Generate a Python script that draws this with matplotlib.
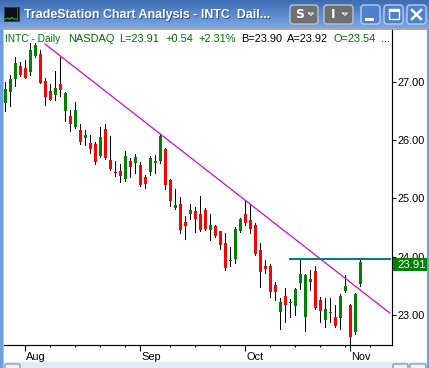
import numpy as np
import matplotlib
matplotlib.use("Agg")
import matplotlib.pyplot as plt
from matplotlib.patches import FancyBboxPatch, Rectangle
from matplotlib.transforms import blended_transform_factory, ScaledTranslation

plt.rcParams['font.family'] = ['Liberation Sans', 'DejaVu Sans']

opens = [26.63,26.82,27.05,27.27,27.23,27.17,27.44,27.47,27.01,26.84,26.77,26.96,26.50,26.41,26.22,
         26.17,26.04,25.95,25.93,25.73,26.19,25.66,25.45,25.47,25.33,25.64,25.61,25.57,25.37,25.45,
         25.61,25.64,25.85,25.32,24.84,24.90,24.60,24.73,24.79,24.73,24.80,24.46,24.53,24.44,24.24,
         23.93,23.96,24.44,24.73,24.63,24.55,24.12,23.84,23.84,23.52,23.06,23.33,23.21,23.16,23.55,
         22.97,23.57,23.76,23.26,22.92,23.04,22.97,22.95,23.42,23.18,22.71,23.54]
closes = [26.87,27.05,27.32,27.11,27.07,27.54,27.63,26.98,26.74,26.69,26.89,26.86,26.81,26.28,26.52,
          25.97,26.08,25.85,25.62,26.05,25.69,25.50,25.44,25.39,25.73,25.54,25.71,25.23,25.25,25.69,
          25.64,26.07,25.23,24.96,24.89,24.46,24.53,24.80,24.65,24.46,24.48,24.55,24.36,24.20,23.81,
          23.95,24.48,24.65,24.58,24.48,24.05,23.74,23.79,23.40,23.40,23.23,23.18,23.23,23.45,23.71,
          23.69,23.62,23.13,23.07,23.11,23.06,22.82,23.33,23.50,22.63,23.37,23.91]
highs = [27.00,27.11,27.43,27.33,27.37,27.66,27.66,27.54,27.06,26.96,27.19,27.42,26.82,26.52,26.65,
         26.28,26.17,26.09,25.97,26.22,26.28,26.07,25.64,25.59,25.81,25.69,25.76,25.62,25.40,25.73,
         25.74,26.10,25.86,25.33,25.16,25.03,24.70,24.90,24.85,25.04,24.84,24.73,24.55,24.45,24.41,
         24.17,24.51,24.67,24.97,24.89,24.58,24.24,23.95,23.88,23.57,23.30,23.47,23.28,23.47,23.98,
         23.70,23.78,23.84,23.31,23.30,23.30,23.18,23.37,23.69,23.19,23.38,23.95]
lows = [26.50,26.58,26.93,27.10,27.06,27.11,27.43,26.97,26.60,26.68,26.69,26.76,26.32,26.16,26.20,
        25.93,25.92,25.78,25.59,25.71,25.68,25.49,25.39,25.28,25.30,25.37,25.44,25.21,25.18,25.40,
        25.44,25.61,25.16,24.87,24.82,24.41,24.31,24.65,24.43,24.44,24.46,24.29,24.34,24.14,23.78,
        23.84,23.90,24.43,24.55,24.41,24.04,23.48,23.72,23.31,23.26,22.77,22.89,22.97,23.01,23.45,
        22.73,23.43,23.11,22.89,22.80,22.89,22.80,22.77,23.40,22.51,22.68,23.50]
month_pos = [4, 27, 48, 69]
month_labels = ['Aug', 'Sep', 'Oct', 'Nov']
week_pos = [9, 14, 19, 24, 33, 38, 43, 53, 58, 63, 68, 73]
price_ticks = [23, 24, 25, 26, 27]
trend_x = [7.93, 76.87]
trend_y = [27.645, 23.04]
resist_x = [56.9, 76.87]
resist_y = [23.97, 23.97]
last_price = 23.91

W, H = 429, 368
fig = plt.figure(figsize=(W/100, H/100), dpi=100, facecolor='white')

# window chrome, in pixel coordinates
bg = fig.add_axes([0, 0, 1, 1], zorder=0)
bg.axis('off')
grad = np.linspace(0, 1, 29)[:, None, None]
c0 = np.array([0x3d, 0x6c, 0xb2])/255
c1 = np.array([0x7d, 0xa9, 0xe6])/255
bg.add_patch(Rectangle((0, 0), 3, H, fc='#6f9fe0', ec='none', zorder=2))
bg.add_patch(Rectangle((2.5, 0), 1.5, H, fc='#a9c6ee', ec='none', zorder=2))
bg.add_patch(Rectangle((426.5, 0), 2.5, H, fc='#6f9fe0', ec='none', zorder=2))
bg.imshow(c0 + (c1-c0)*grad, extent=(0, W, 29, 0), aspect='auto', zorder=3)
bg.set_xlim(0, W); bg.set_ylim(H, 0)
bg.add_patch(Rectangle((4, 28), 423, 2, fc='#a8a8a8', ec='none', zorder=4))
bg.add_patch(Rectangle((4, 362), 423, 6, fc='#dfeafa', ec='none', zorder=4))
for x0, x1 in [(5, 20), (393, 408), (410, 426)]:
    bg.add_patch(FancyBboxPatch((x0, 364), x1-x0, 6, boxstyle='round,pad=0,rounding_size=1',
                                fc='#eef3fb', ec='#6a7a90', lw=0.7, zorder=5))
# icon
bg.add_patch(Rectangle((4, 7), 15, 14, fc='#101010', ec='#1c3f7a', lw=0.7, zorder=5))
bg.plot([5, 8, 10, 12, 14, 17], [19, 18, 19, 17.5, 19, 19], color='#20c020', lw=0.8, zorder=6)
bg.plot([17, 17], [8, 20], color='#d02020', lw=0.7, zorder=6)
# title
for dx, col in [(0.6, '#33558c'), (0, 'white')]:
    bg.text(24+dx, 15+dx, 'TradeStation Chart Analysis - INTC  Dail...', color=col,
            family='Liberation Sans', weight='bold', fontsize=8.9, va='center', ha='left', zorder=7)
# S / I buttons
for x0, w, lab in [(290, 28, 'S'), (324, 29, 'I')]:
    bg.add_patch(FancyBboxPatch((x0, 5), w, 19, boxstyle='round,pad=0,rounding_size=3',
                                fc='#6e7071', ec='#b9c2cc', lw=1, zorder=5))
    bg.text(x0+9.5, 14.5, lab, color='white', weight='bold', family='DejaVu Sans',
            fontsize=9, ha='center', va='center', zorder=6)
    bg.plot([x0+18.5, x0+23.5, x0+21, x0+18.5], [13, 13, 15.5, 13], color='white', lw=0.6, zorder=6)
# window buttons
for x0 in [361, 384, 407]:
    bg.add_patch(FancyBboxPatch((x0, 5), 19, 19, boxstyle='round,pad=0,rounding_size=3',
                                fc='#4f80cc', ec='#b7cdee', lw=1, zorder=5))
bg.add_patch(Rectangle((365, 18), 9, 3, fc='white', ec='none', zorder=6))
bg.add_patch(Rectangle((389, 9), 10, 10, fc='none', ec='white', lw=1, zorder=6))
bg.add_patch(Rectangle((389, 9), 10, 2.5, fc='white', ec='none', zorder=6))
bg.plot([412, 421], [10, 19], color='white', lw=1.8, zorder=6)
bg.plot([412, 421], [19, 10], color='white', lw=1.8, zorder=6)

# chart axes
L, R, T, B = 4, 392, 30, 345
ax = fig.add_axes([L/W, 1-B/H, (R-L)/W, (B-T)/H], zorder=1)
ax.set_xlim((L-5.33)/5, (R-5.33)/5)
ax.set_ylim(27-(B-81.7)/58.4, 27-(T-81.7)/58.4)
ax.set_facecolor('white')
for s in ['top', 'left']:
    ax.spines[s].set_visible(False)
for s in ['right', 'bottom']:
    ax.spines[s].set_linewidth(0.85)

idx = np.arange(len(opens))
o, c, h, l = map(np.array, (opens, closes, highs, lows))
colors = np.where(c >= o, '#008000', '#ff0000')
ax.vlines(idx, l, h, color='black', lw=0.72, antialiased=False, zorder=2)
ax.bar(idx, np.maximum(np.abs(c-o), 0.02), bottom=np.minimum(o, c), width=0.62,
       color=colors, linewidth=0, antialiased=False, zorder=3)
ax.plot(trend_x, trend_y, color='#cc00cc', lw=0.85, zorder=4)
ax.plot(resist_x, resist_y, color='#008080', lw=1.1, zorder=4, antialiased=False)

ax.yaxis.tick_right()
ax.set_yticks(price_ticks)
ax.set_yticklabels([f'{p:.2f}' for p in price_ticks], fontsize=7.9)
ax.tick_params(axis='y', length=3, width=0.8, pad=1)
ax.set_xticks(month_pos)
ax.set_xticklabels(month_labels, fontsize=7.9, ha='left')
ax.set_xticks(week_pos, minor=True)
ax.tick_params(axis='x', which='major', length=4.3, width=0.8, pad=0.4)
ax.tick_params(axis='x', which='minor', length=1.5, width=0.8)
for t in ax.get_xticklabels():
    t.set_transform(t.get_transform() + ScaledTranslation(1/100, 0, fig.dpi_scale_trans))

# last price flag
tr = blended_transform_factory(ax.transAxes, ax.transData)
ax.add_patch(Rectangle((1.002, last_price-0.16), 0.088, 0.233, transform=tr, fc='#008000',
                       ec='none', clip_on=False, zorder=6))
ax.text(1.013, last_price-0.05, f'{last_price:.2f}', transform=tr, color='white', fontsize=8.2,
        ha='left', va='center', clip_on=False, zorder=7)

# header line
header = [(5, 'INTC - Daily', '#006e00', 7.3), (68, 'NASDAQ', '#006e00', 7.9), (119, 'L=23.91', '#006e00', 7.9),
          (165, '+0.54', '#006e00', 7.9), (198, '+2.31%', '#006e00', 7.9), (241, 'B=23.90', 'black', 7.9),
          (287, 'A=23.92', 'black', 7.9), (334, 'O=23.54', '#006e00', 7.9), (381, '...', 'black', 7.9)]
for x, s, col, fs in header:
    fig.text(x/W, 1-38.5/H, s, color=col, fontsize=fs, ha='left', va='center', zorder=5)

fig.savefig('out.png', dpi=100)
